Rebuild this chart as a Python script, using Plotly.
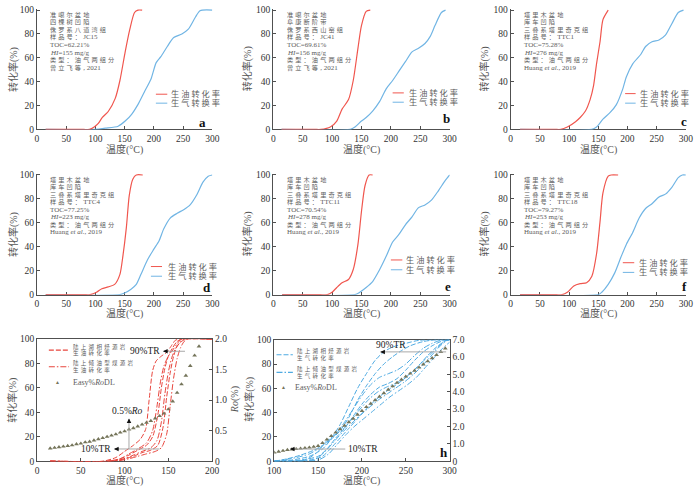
"""
Oil / gas conversion curves (panels a-f) and compiled curves with Easy%RoDL (panels g, h).
"""

import plotly.graph_objects as go

W, H = 700, 490
SERIF = "Liberation Serif, Noto Sans CJK SC, serif"
RED = "#f0564e"
BLUE = "#71b5e4"
RED_G = "#e8453d"
BLUE_H = "#4eaae2"
AXIS = "#505050"
GREY_TXT = "#5c5c5c"
TITLE = "#555555"
TRI = "#75755a"
GUIDE = "#a8a8a8"

# ---------------- panels a-f: temperature (°C) vs conversion (%) ----------------
a_oil_t = [15, 80, 90, 98, 105, 112, 122, 134, 142, 151, 159, 167, 173, 180]
a_oil_v = [0, 0, 0, 2, 5, 10, 15, 26, 41, 65, 84, 98, 100, 100]
a_gas_t = [15, 100, 117, 139, 151, 162, 173, 184, 195, 204, 212, 223, 234, 248, 259, 271, 279, 300]
a_gas_v = [0, 0, 1, 2.7, 7, 12.7, 21, 31.6, 42, 56, 61, 69.5, 77, 80, 84, 94, 99.5, 100]

b_oil_t = [14, 70, 81, 97, 108, 117, 128, 136, 144, 150, 158, 165]
b_oil_v = [0, 0, 0, 2, 7, 17, 25, 41, 68, 87, 99, 100]
b_gas_t = [14, 131, 139, 150, 158, 169, 181, 192, 203, 214, 225, 236, 247, 258, 267, 275, 286, 293]
b_gas_v = [0, 0, 2, 7, 10, 15.4, 23.5, 34, 41, 49, 57, 65, 68, 72, 78, 87, 98, 100]

c_oil_t = [16, 75, 86, 97, 111, 119, 128, 136, 142, 147, 153, 158, 167]
c_oil_v = [0, 0, 0, 2, 6.5, 10, 15.4, 25, 37, 55, 73.5, 92, 100]
c_gas_t = [16, 139, 147, 158, 170, 181, 192, 198, 209, 223, 231, 242, 254, 265, 276, 287, 296]
c_gas_v = [0, 0, 2, 8.6, 14, 20.8, 34, 44, 55, 63, 69.5, 73.5, 75, 79, 88.6, 98, 100]

d_oil_t = [15, 80, 91, 102, 111, 122, 133, 142, 147, 153, 158, 164, 170, 181]
d_oil_v = [0, 0, 0, 2, 5, 6.5, 8.6, 17, 32, 56, 83, 96.5, 100, 100]
d_gas_t = [15, 142, 150, 161, 170, 178, 189, 200, 209, 217, 228, 240, 251, 262, 273, 284, 293, 300]
d_gas_v = [0, 0, 1.4, 4.6, 8.6, 17, 29, 38, 45, 55, 64, 68, 71, 75, 83, 94, 99, 100]

e_oil_t = [15, 80, 92, 100, 108, 117, 128, 136, 144, 150, 156, 163, 169]
e_oil_v = [0, 0, 0, 2, 6, 10, 12.7, 21, 42, 69.5, 91, 100, 100]
e_gas_t = [15, 139, 147, 158, 169, 181, 192, 203, 214, 225, 236, 247, 258, 269, 281, 292, 300]
e_gas_v = [0, 0, 2, 6, 11, 21, 32, 44, 50.5, 58.6, 65, 72.7, 75, 79, 87, 95, 100]

f_oil_t = [16, 78, 88, 97, 108, 119, 130, 139, 147, 153, 158, 167, 172, 184]
f_oil_v = [0, 0, 0, 2, 7.3, 9.2, 10, 15.4, 34, 61, 85, 99, 100, 100]
f_gas_t = [16, 150, 156, 167, 178, 189, 198, 209, 220, 231, 242, 254, 265, 276, 287, 294, 300]
f_gas_v = [0, 0, 2, 8.6, 18, 31.6, 42, 52, 64, 72, 76, 81.6, 84, 89.7, 97.8, 100, 100]

a_info = ["准噶尔盆地", "四棵树凹陷", "侏罗系八道湾组", "样品号：JC15", "TOC=62.21%",
          "<i>HI</i>=155 mg/g", "类型：油气两组分", "曾立飞等, 2021"]
b_info = ["准噶尔盆地", "阜康断阶带", "侏罗系西山窑组", "样品号：JC41", "TOC=69.61%",
          "<i>HI</i>=156 mg/g", "类型：油气两组分", "曾立飞等, 2021"]
c_info = ["塔里木盆地", "库车凹陷", "三叠系塔里奇克组", "样品号：TTC1", "TOC=75.28%",
          "<i>HI</i>=276 mg/g", "类型：油气两组分", "Huang <i>et al.</i>, 2019"]
d_info = ["塔里木盆地", "库车凹陷", "三叠系塔里奇克组", "样品号：TTC4", "TOC=77.25%",
          "<i>HI</i>=223 mg/g", "类型：油气两组分", "Huang <i>et al.</i>, 2019"]
e_info = ["塔里木盆地", "库车凹陷", "三叠系塔里奇克组", "样品号：TTC11", "TOC=70.54%",
          "<i>HI</i>=278 mg/g", "类型：油气两组分", "Huang <i>et al.</i>, 2019"]
f_info = ["塔里木盆地", "库车凹陷", "三叠系塔里奇克组", "样品号：TTC18", "TOC=79.27%",
          "<i>HI</i>=253 mg/g", "类型：油气两组分", "Huang <i>et al.</i>, 2019"]

# ---------------- panel g: oil conversion of all samples ----------------
g_lac_t = [
    [15, 75, 90, 100, 110, 118, 124, 128, 132, 136, 142, 148, 153, 158, 163, 200],
    [15, 80, 95, 105, 115, 125, 132, 138, 142, 146, 150, 155, 160, 166, 200],
    [15, 85, 100, 110, 120, 130, 138, 144, 148, 152, 156, 160, 165, 170, 200],
]
g_lac_v = [
    [0, 0, 3, 8, 13, 18, 26, 50, 74, 82, 86, 89, 94, 99, 100, 100],
    [0, 0, 2, 5, 9, 13, 20, 38, 60, 76, 86, 93, 98, 100, 100],
    [0, 0, 2, 4, 7, 9, 13, 28, 52, 72, 86, 94, 98, 100, 100],
]
g_coal_t = [
    [15, 80, 95, 105, 115, 125, 132, 137, 141, 145, 150, 155, 160, 165, 200],
    [15, 85, 100, 110, 120, 130, 137, 142, 146, 150, 154, 158, 163, 168, 200],
    [15, 90, 105, 115, 125, 135, 142, 148, 152, 156, 160, 164, 168, 172, 200],
]
g_coal_v = [
    [0, 0, 2, 6, 10, 15, 25, 45, 65, 78, 86, 91, 96, 100, 100],
    [0, 0, 2, 5, 8, 11, 17, 32, 55, 73, 85, 92, 97, 100, 100],
    [0, 0, 2, 4, 6, 8, 11, 22, 45, 68, 84, 93, 98, 100, 100],
]
g_ro_t = [15, 20, 25, 30, 35, 40, 45, 50, 55, 60, 65, 70, 75, 80, 85, 90, 95, 100,
          105, 110, 115, 120, 125, 130, 135, 140, 145, 150, 155, 160, 165, 170, 175, 180, 185]
g_ro_v = [0.21, 0.22, 0.23, 0.24, 0.25, 0.26, 0.28, 0.29, 0.31, 0.32, 0.34, 0.36, 0.38,
          0.40, 0.42, 0.44, 0.47, 0.49, 0.52, 0.54, 0.57, 0.60, 0.63, 0.66, 0.70, 0.74,
          0.78, 0.85, 0.98, 1.12, 1.26, 1.40, 1.56, 1.73, 1.88]

# ---------------- panel h: gas conversion of all samples ----------------
h_lac_t = [
    [100, 115, 130, 145, 155, 165, 175, 185, 195, 205, 215, 225, 235, 250, 265, 300],
    [100, 120, 140, 155, 165, 175, 185, 195, 205, 215, 225, 235, 245, 255, 270, 285, 300],
    [100, 130, 150, 160, 170, 180, 190, 200, 210, 220, 230, 240, 250, 260, 270, 280, 290, 300],
    [100, 140, 155, 165, 175, 185, 195, 205, 215, 225, 235, 245, 255, 265, 275, 285, 295, 300],
]
h_lac_v = [
    [0, 2, 5, 9, 13, 19, 30, 45, 60, 72, 83, 90, 94, 97, 99.5, 100],
    [0, 1, 4, 10, 18, 25, 36, 50, 62, 72, 80, 86, 91, 95, 98.5, 100, 100],
    [0, 1, 4, 10, 19, 27, 37, 47, 55, 61, 64, 68, 75, 83, 90, 95, 98.5, 100],
    [0, 1, 4, 11, 19, 27, 35, 43, 50, 56, 61, 66, 72, 79, 87, 94, 99, 100],
]
h_coal_t = [
    [100, 135, 150, 160, 168, 178, 188, 198, 208, 218, 228, 238, 248, 258, 268, 278, 288, 298, 300],
    [100, 145, 158, 168, 178, 188, 198, 208, 218, 228, 238, 248, 258, 268, 278, 288, 297, 300],
    [100, 150, 162, 172, 182, 192, 202, 212, 222, 232, 242, 252, 262, 272, 282, 292, 300],
    [100, 110, 125, 140, 150, 160, 170, 180, 190, 200, 210, 220, 230, 240, 250, 260, 270, 280, 290, 300],
]
h_coal_v = [
    [0, 1, 8, 17, 21, 26, 34, 43, 51, 57, 61, 64, 68, 74, 81, 88, 95, 100, 100],
    [0, 1, 8, 16, 24, 31, 38, 44, 50, 55, 60, 65, 71, 78, 86, 94, 99.5, 100],
    [0, 1, 6, 14, 22, 29, 35, 41, 47, 53, 58, 63, 69, 77, 85, 93, 98],
    [0, 1, 3, 6, 10, 15, 22, 32, 43, 54, 63, 69, 72, 75, 80, 87, 93, 97, 99.5, 100],
]
h_ro_t = [100, 105, 110, 115, 120, 125, 130, 135, 140, 145, 150, 155, 160, 165, 170, 175,
          180, 185, 190, 195, 200, 205, 210, 215, 220, 225, 230, 235, 240, 245, 250, 255,
          260, 265, 270, 275, 280, 285, 290, 295]
h_ro_v = [0.50, 0.55, 0.60, 0.65, 0.68, 0.70, 0.73, 0.76, 0.79, 0.83, 0.88, 1.05, 1.25,
          1.45, 1.65, 1.85, 2.05, 2.25, 2.45, 2.68, 2.90, 3.12, 3.32, 3.52, 3.72, 3.92,
          4.12, 4.32, 4.52, 4.70, 4.88, 5.05, 5.22, 5.40, 5.58, 5.76, 5.94, 6.12, 6.30, 6.50]

x_ticks_top = [0, 50, 100, 150, 200, 250, 300]
y_ticks = [0, 20, 40, 60, 80, 100]
g_x_ticks = [0, 50, 100, 150, 200]
h_x_ticks = [100, 150, 200, 250, 300]
g_ro_ticks = [0, 0.5, 1.0, 1.5, 2.0]
g_ro_labels = ["0", "0.5", "1.0", "1.5", "2.0"]
h_ro_ticks = [0, 1, 2, 3, 4, 5, 6, 7]
h_ro_labels = ["0", "1.0", "2.0", "3.0", "4.0", "5.0", "6.0", "7.0"]

# plot boxes in pixels: left, right, top, bottom
BOX = {
    1: (30.5, 209.5, 4, 127),
    2: (271.7, 451.7, 4, 127),
    3: (514, 692.7, 4, 127),
    4: (30.5, 209.5, 172.3, 295.7),
    5: (271.7, 451.7, 172.3, 295.7),
    6: (514, 692.7, 172.3, 295.7),
    7: (30.7, 209.3, 341, 465.7),
    8: (272.7, 451.7, 341.7, 465.7),
}


def px(p):
    return p / W


def py(p):
    return 1 - p / H


def ax_name(n, letter):
    return letter if n == 1 else f"{letter}{n}"


def cjk(text, size, sp):
    """Small, letter-spaced CJK runs (mimics the spaced Song type of the original)."""
    out, run = [], ""
    for ch in text:
        if ord(ch) >= 0x2E80:
            run += ch
            continue
        if run:
            out.append(f'<span style="font-size:{size}px;letter-spacing:{sp}px">{run}</span>')
            run = ""
        out.append(ch)
    if run:
        out.append(f'<span style="font-size:{size}px;letter-spacing:{sp}px">{run}</span>')
    return "".join(out)


fig = go.Figure()
annotations = []
shapes = []
TICKFONT = dict(family=SERIF, size=9.5, color="#333")


def note(x, y, text, size=8, color=GREY_TXT, xanchor="left", yanchor="middle",
         xref="paper", yref="paper", angle=0, bold=False):
    annotations.append(dict(
        x=x, y=y, xref=xref, yref=yref, text=f"<b>{text}</b>" if bold else text,
        showarrow=False, xanchor=xanchor, yanchor=yanchor, textangle=angle,
        font=dict(family=SERIF, size=size, color=color), borderpad=0,
    ))


def curve(n, t, v, color, dash="solid", width=1.2, yaxis=None):
    fig.add_trace(go.Scatter(
        x=t, y=v, mode="lines", xaxis=ax_name(n, "x"), yaxis=yaxis or ax_name(n, "y"),
        line=dict(color=color, width=width, dash=dash, shape="spline", smoothing=0.7),
        showlegend=False, hoverinfo="skip",
    ))


def axes(n, xr, xticks, yr, mirror=False):
    l, r, t, b = BOX[n]
    common = dict(showline=True, linecolor=AXIS, linewidth=1, ticks="inside", ticklen=3,
                  tickcolor=AXIS, showgrid=False, zeroline=False, tickfont=TICKFONT)
    fig.layout[f"xaxis{'' if n == 1 else n}"] = dict(
        domain=[px(l), px(r)], range=xr, tickvals=xticks, anchor=ax_name(n, "y"),
        mirror=mirror, layer="below traces", **common)
    fig.layout[f"yaxis{'' if n == 1 else n}"] = dict(
        domain=[py(b), py(t)], range=yr, tickvals=y_ticks, anchor=ax_name(n, "x"), **common)


def guide_arrow(n, x, y, dx, dy, xref, yref):
    # small black arrow head pointing to (x, y)
    annotations.append(dict(
        x=x, y=y, xref=xref, yref=yref, ax=dx, ay=dy, text="", showarrow=True,
        arrowhead=2, arrowsize=0.9, arrowwidth=1, arrowcolor="#111", standoff=0,
    ))


def hline(n, x0, x1, y, color=GUIDE):
    shapes.append(dict(type="line", xref=ax_name(n, "x"), yref=ax_name(n, "y"),
                       x0=x0, x1=x1, y0=y, y1=y, line=dict(color=color, width=1)))


# ---------------- panels a-f ----------------
top = [
    (1, "a", a_oil_t, a_oil_v, a_gas_t, a_gas_v, a_info),
    (2, "b", b_oil_t, b_oil_v, b_gas_t, b_gas_v, b_info),
    (3, "c", c_oil_t, c_oil_v, c_gas_t, c_gas_v, c_info),
    (4, "d", d_oil_t, d_oil_v, d_gas_t, d_gas_v, d_info),
    (5, "e", e_oil_t, e_oil_v, e_gas_t, e_gas_v, e_info),
    (6, "f", f_oil_t, f_oil_v, f_gas_t, f_gas_v, f_info),
]
LEG_Y = {1: (29.5, 22), 2: (30.6, 22.8), 3: (30, 22), 4: (23.5, 15.4), 5: (29, 20.8), 6: (26.7, 18.6)}
LEG_X = {1: (203.5, 223, 228), 2: (203, 222, 229), 3: (196, 214, 220), 4: (195, 214, 222),
         5: (200, 219.5, 224), 6: (192, 211.6, 218)}
LETTER = {1: (284, 6), 2: (294.5, 9), 3: (297, 6.5), 4: (291, 6), 5: (297, 7), 6: (297.5, 6.5)}
YTITLE_X = {1: 6, 2: 245, 3: 487, 4: 6, 5: 245, 6: 487}

for n, letter, ot, ov, gt, gv, info in top:
    l, r, t, b = BOX[n]
    axes(n, [0, 300], x_ticks_top, [0, 101])
    curve(n, gt, gv, BLUE)
    curve(n, ot, ov, RED)
    for i, line in enumerate(info):
        note(px(l + 12.5), py(t + 6 + 7.7 * i), cjk(line, 6.2, 2.1), size=7)
    xa, ya = ax_name(n, "x"), ax_name(n, "y")
    k0, k1, tx = LEG_X[n]
    for yy, col, lab in zip(LEG_Y[n], (RED, BLUE), ("生油转化率", "生气转换率")):
        hline(n, k0, k1, yy, color=col)
        note(tx, yy, cjk(lab, 8.2, 2.0), size=9, xref=xa, yref=ya)
    lx, lyv = LETTER[n]
    note(lx, lyv, letter, size=13, color="#111", xanchor="center", xref=xa, yref=ya, bold=True)
    note(px(YTITLE_X[n]), py((t + b) / 2), "转化率(%)", size=10, color=TITLE,
         xanchor="center", angle=-90)
    note(px((l + r) / 2), py(b + 21 if n <= 3 else b + 19.5), "温度(°C)", size=10,
         color=TITLE, xanchor="center")

# ---------------- panel g ----------------
axes(7, [0, 200], g_x_ticks, [0, 100], mirror=True)
fig.layout["yaxis9"] = dict(
    overlaying="y7", side="right", anchor="x7", range=[0, 2], tickvals=g_ro_ticks,
    ticktext=g_ro_labels, showline=True, linecolor=AXIS, linewidth=1, ticks="inside",
    ticklen=3, tickcolor=AXIS, showgrid=False, zeroline=False, tickfont=TICKFONT)
for t_, v_ in zip(g_lac_t, g_lac_v):
    curve(7, t_, v_, RED_G, dash="5px,2px", width=1.0)
for t_, v_ in zip(g_coal_t, g_coal_v):
    curve(7, t_, v_, RED_G, dash="6px,2px,1.5px,2px", width=1.0)
fig.add_trace(go.Scatter(
    x=g_ro_t, y=g_ro_v, mode="markers", xaxis="x7", yaxis="y9",
    marker=dict(symbol="triangle-up", size=4.2, color=TRI), showlegend=False, hoverinfo="skip"))

# guides in g
hline(7, 144, 169, 90)
guide_arrow(7, 144, 90, 6, 0, "x7", "y7")
note(142, 90, "90%TR", size=9.5, color="#222", xanchor="right", xref="x7", yref="y7")
hline(7, 88, 140, 10)
guide_arrow(7, 88, 10, 6, 0, "x7", "y7")
note(86, 10, "10%TR", size=9.5, color="#222", xanchor="right", xref="x7", yref="y7")
shapes.append(dict(type="line", xref="x7", yref="y7", x0=105, x1=105, y0=10, y1=34,
                   line=dict(color=GUIDE, width=1)))
guide_arrow(7, 105, 35, 0, 6, "x7", "y7")
note(103, 41, "0.5%<i>Ro</i>", size=9.5, color="#222", xanchor="center", xref="x7", yref="y7")

# legend in g
shapes.append(dict(type="line", xref="paper", yref="paper", x0=px(42.7), x1=px(63.3),
                   y0=py(352.3), y1=py(352.3), line=dict(color=RED_G, width=1.1, dash="5px,2px")))
shapes.append(dict(type="line", xref="paper", yref="paper", x0=px(42.7), x1=px(63.3),
                   y0=py(369.3), y1=py(369.3),
                   line=dict(color=RED_G, width=1.1, dash="6px,2px,1.5px,2px")))
note(px(66.7), py(349), cjk("陆上湖相烃源岩", 5.5, 2.3), size=6)
note(px(66.7), py(355.7), cjk("生油转化率", 5.5, 2.3), size=6)
note(px(66.7), py(365.7), cjk("陆上倾油型煤源岩", 5.5, 2.3), size=6)
note(px(66.7), py(372.3), cjk("生油转化率", 5.5, 2.3), size=6)
note(px(52), py(385), "▲", size=5, color=TRI, xanchor="center")
note(px(66.7), py(385), "Easy%<i>Ro</i>DL", size=8)
note(203, 7, "g", size=13, color="#111", xanchor="center", xref="x7", yref="y7", bold=True)
note(px(6), py(403), "转化率(%)", size=10, color=TITLE, xanchor="center", angle=-90)
note(px(232), py(403), "<i>Ro</i>(%)", size=10, color=TITLE, xanchor="center", angle=-90)
note(px(120), py(485.5), "温度(°C)", size=10, color=TITLE, xanchor="center")

# ---------------- panel h ----------------
axes(8, [100, 300], h_x_ticks, [0, 100], mirror=True)
fig.layout["yaxis10"] = dict(
    overlaying="y8", side="right", anchor="x8", range=[0, 7], tickvals=h_ro_ticks,
    ticktext=h_ro_labels, showline=True, linecolor=AXIS, linewidth=1, ticks="inside",
    ticklen=3, tickcolor=AXIS, showgrid=False, zeroline=False, tickfont=TICKFONT)
for t_, v_ in zip(h_lac_t, h_lac_v):
    curve(8, t_, v_, BLUE_H, dash="5px,2px", width=1.0)
for t_, v_ in zip(h_coal_t, h_coal_v):
    curve(8, t_, v_, BLUE_H, dash="6px,2px,1.5px,2px", width=1.0)
fig.add_trace(go.Scatter(
    x=h_ro_t, y=h_ro_v, mode="markers", xaxis="x8", yaxis="y10",
    marker=dict(symbol="triangle-up", size=4.2, color=TRI), showlegend=False, hoverinfo="skip"))

hline(8, 221, 296, 90)
guide_arrow(8, 221, 90, 6, 0, "x8", "y8")
note(233, 95.5, "90%TR", size=9.5, color="#222", xanchor="center", xref="x8", yref="y8")
hline(8, 118, 181, 10)
guide_arrow(8, 118, 10, 6, 0, "x8", "y8")
note(183, 10, "10%TR", size=9.5, color="#222", xanchor="left", xref="x8", yref="y8")

shapes.append(dict(type="line", xref="paper", yref="paper", x0=px(275), x1=px(291.7),
                   y0=py(357), y1=py(357), line=dict(color=BLUE_H, width=1.1, dash="5px,2px")))
shapes.append(dict(type="line", xref="paper", yref="paper", x0=px(275), x1=px(291.7),
                   y0=py(375), y1=py(375),
                   line=dict(color=BLUE_H, width=1.1, dash="6px,2px,1.5px,2px")))
note(px(295), py(353.3), cjk("陆上湖相烃源岩", 5.5, 2.3), size=6)
note(px(295), py(360), cjk("生气转化率", 5.5, 2.3), size=6)
note(px(295), py(371.7), cjk("陆上倾油型煤源岩", 5.5, 2.3), size=6)
note(px(295), py(378.3), cjk("生气转化率", 5.5, 2.3), size=6)
note(px(282), py(390), "▲", size=5, color=TRI, xanchor="center")
note(px(293.3), py(390), "Easy%<i>Ro</i>DL", size=8)
note(294, 7, "h", size=13, color="#111", xanchor="center", xref="x8", yref="y8", bold=True)
note(px(248), py(403), "转化率(%)", size=10, color=TITLE, xanchor="center", angle=-90)
note(px(362), py(485.5), "温度(°C)", size=10, color=TITLE, xanchor="center")

fig.update_layout(
    width=W, height=H, margin=dict(l=0, r=0, t=0, b=0),
    paper_bgcolor="white", plot_bgcolor="white",
    annotations=annotations, shapes=shapes, showlegend=False,
    font=dict(family=SERIF),
)

# drop the default page margin so the figure sits at the window's top-left corner
fig.write_html("out.html", config={"displayModeBar": False},
               post_script="document.body.style.margin='0px';")
